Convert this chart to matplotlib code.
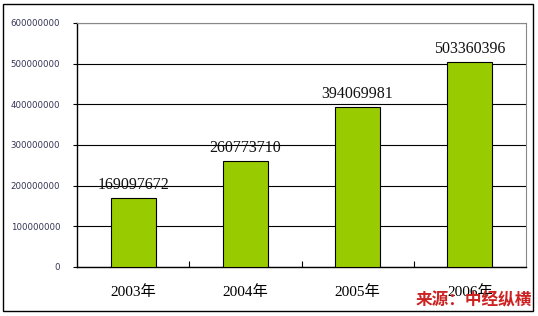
import matplotlib.pyplot as plt
from matplotlib.patches import Rectangle

plt.rcParams["font.family"] = ["Liberation Serif", "Noto Sans CJK SC"]

years = ["2003年", "2004年", "2005年", "2006年"]
values = [169097672, 260773710, 394069981, 503360396]
yticks = [0, 100000000, 200000000, 300000000, 400000000, 500000000, 600000000]

fig = plt.figure(figsize=(5.38, 3.16), dpi=100)
ax = fig.add_axes([77 / 538, 49 / 316, 449 / 538, 244 / 316])

x = range(len(years))
ax.bar(x, values, width=0.4, color="#99CC00", edgecolor="black", linewidth=0.8, zorder=3)
for i, v in enumerate(values):
    ax.text(i, v + 12000000, str(v), ha="center", va="bottom", fontsize=11.5, color="#111111")

ax.set_xlim(-0.5, len(years) - 0.5)
ax.set_ylim(0, 600000000)
ax.set_yticks(yticks)
ax.set_yticklabels([str(t) for t in yticks], fontsize=6.2, family="DejaVu Sans", color="#333355")
ax.set_xticks(list(x))
ax.set_xticklabels(years, fontsize=11)
ax.tick_params(axis="x", length=0, pad=13)
ax.tick_params(axis="y", length=3, width=0.8, pad=9)
ax.set_xticks([0.5, 1.5, 2.5], minor=True)
ax.tick_params(axis="x", which="minor", direction="in", length=4, width=0.8)
ax.yaxis.grid(True, color="black", linewidth=0.8, zorder=0)
ax.spines["left"].set_linewidth(1.0)
ax.spines["bottom"].set_linewidth(1.0)
ax.spines["top"].set_color("#888888")
ax.spines["right"].set_color("#888888")

fig.patches.append(Rectangle((3 / 538, 5 / 316), 530 / 538, 307 / 316, transform=fig.transFigure,
                             fill=False, edgecolor="black", linewidth=1.0))
fig.text(532 / 538, 16 / 316, "来源：中经纵横", ha="right", va="center", fontsize=12,
         color="#CC2222", fontweight="bold", style="italic", family=["Noto Sans CJK SC"])

fig.savefig("out.png", dpi=100)
